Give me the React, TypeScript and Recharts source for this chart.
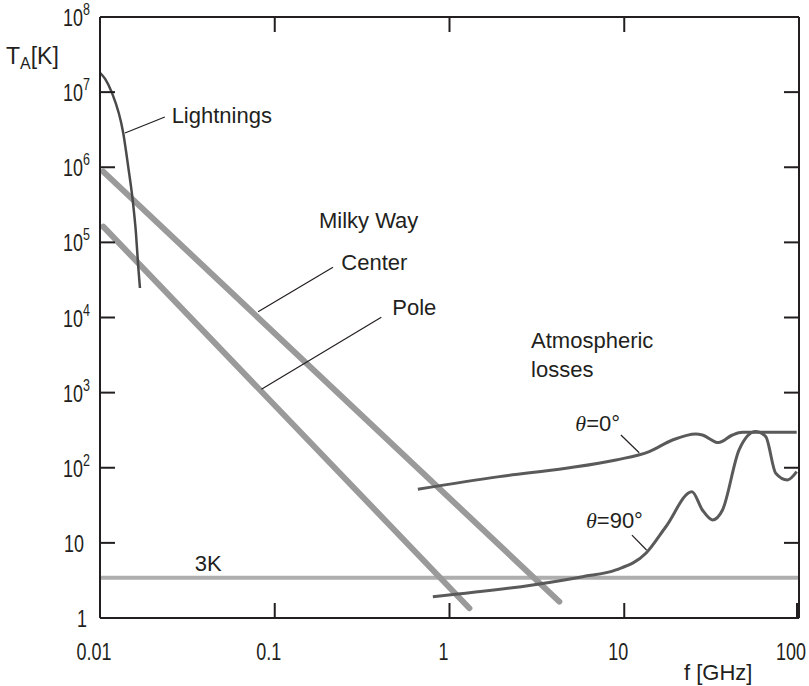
import React from "react";
import {
  ComposedChart,
  Line,
  XAxis,
  YAxis,
  ReferenceLine,
  ReferenceDot,
} from "recharts";

// frequency in GHz, brightness temperature in K
const lightningF = [0.01, 0.0107, 0.01166, 0.01359, 0.0145, 0.01538, 0.01606, 0.01655, 0.01693];
const lightningT = [1.81e7, 1.5e7, 1.0e7, 2.83e6, 1.02e6, 3.67e5, 1.33e5, 4.75e4, 2.47e4];

const centerF = [0.01044, 4.25];
const centerT = [8.73e5, 1.65];

const poleF = [0.01044, 1.3];
const poleT = [1.62e5, 1.35];

const cmbF = [0.01, 100];
const cmbT = [3.44, 3.44];

const zenithF = [0.659, 1.93, 4.64, 8.97, 13.9, 18.9, 25.7, 28.0, 34.6, 41.6, 47.4, 97];
const zenithT = [51.7, 76.2, 98.5, 127, 164, 234, 282, 273, 216, 273, 297, 297];

const horizonF = [0.803, 2.99, 5.78, 8.97, 13.3, 17.3, 24.4, 28.0, 32.0, 36.5, 45.4, 56.5, 64.5, 73.6, 85.8, 97];
const horizonT = [1.92, 2.75, 3.55, 4.36, 7.27, 16.4, 48, 27.4, 20.2, 27.4, 173, 303, 260, 84.5, 68.8, 88.8];

const xTicks = [0.01, 0.1, 1, 10, 100];
const xTickLabels = ["0.01", "0.1", "1", "10", "100"];
const yTicks = [1, 10, 1e2, 1e3, 1e4, 1e5, 1e6, 1e7, 1e8];

const toPoints = (fs: number[], ts: number[]) => fs.map((f, i) => ({ f, T: ts[i] }));

const INK = "#231f20";
const FONT = "'Liberation Sans', Arial, sans-serif";
const SQUEEZE = 0.78;

const BottomTick = (p: any) => {
  const i = xTicks.indexOf(p.payload.value);
  return (
    <g>
      <line x1={p.x} y1={p.y} x2={p.x} y2={p.y - 15} stroke={INK} strokeWidth={2} />
      <text
        transform={`translate(${p.x - 6},${p.y + 42}) scale(${SQUEEZE},1)`}
        textAnchor="middle"
        fontSize={23}
        fontFamily={FONT}
        fill={INK}
      >
        {xTickLabels[i]}
      </text>
    </g>
  );
};

const TopTick = (p: any) => (
  <line x1={p.x} y1={p.y} x2={p.x} y2={p.y + 15} stroke={INK} strokeWidth={2} />
);

const LeftTick = (p: any) => {
  const n = Math.round(Math.log10(p.payload.value));
  const right = n >= 2 ? p.x - 10 : n === 1 ? p.x - 16 : p.x - 13;
  return (
    <g>
      <line x1={p.x} y1={p.y} x2={p.x + 15} y2={p.y} stroke={INK} strokeWidth={2} />
      <text
        transform={`translate(${right},${p.y + 9}) scale(${SQUEEZE},1)`}
        textAnchor="end"
        fontSize={23}
        fontFamily={FONT}
        fill={INK}
      >
        {n === 0 ? "1" : "10"}
        {n >= 2 && (
          <tspan fontSize={16} dy={-11}>
            {n}
          </tspan>
        )}
      </text>
    </g>
  );
};

const RightTick = (p: any) => (
  <line x1={p.x} y1={p.y} x2={p.x - 15} y2={p.y} stroke={INK} strokeWidth={2} />
);

const note = (content: React.ReactNode) => (p: any) => (
  <text x={p.cx} y={p.cy} fontSize={22} fontFamily={FONT} fill={INK}>
    {content}
  </text>
);

const theta = (deg: string) => (
  <>
    <tspan fontFamily="'Liberation Serif', serif" fontStyle="italic">θ</tspan>
    <tspan>{`=${deg}°`}</tspan>
  </>
);

const annotations = [
  { f: 0.0257, T: 3.92e6, text: "Lightnings" as React.ReactNode },
  { f: 0.179, T: 1.54e5, text: "Milky Way" },
  { f: 0.2404, T: 4.29e4, text: "Center" },
  { f: 0.4707, T: 1.08e4, text: "Pole" },
  { f: 2.93, T: 3890, text: "Atmospheric" },
  { f: 2.93, T: 1630, text: "losses" },
  { f: 5.25, T: 311, text: theta("0") },
  { f: 6.04, T: 15.6, text: theta("90") },
  { f: 0.0349, T: 4.26, text: "3K" },
];

const leaders = [
  [{ x: 0.0139, y: 2.86e6 }, { x: 0.0235, y: 4.67e6 }],
  [{ x: 0.0803, y: 1.19e4 }, { x: 0.2154, y: 4.66e4 }],
  [{ x: 0.0839, y: 1107 }, { x: 0.4071, y: 1.007e4 }],
  [{ x: 9.57, y: 273 }, { x: 12.18, y: 158.6 }],
  [{ x: 11.07, y: 12.7 }, { x: 13.41, y: 8.04 }],
];

const App = () => {
  return (
    <div style={{ position: "absolute", left: 0, top: 0, background: "#fff" }}>
      <ComposedChart width={809} height={686} margin={{ top: 16, right: 9, bottom: 0, left: 0 }}>
        <XAxis
          dataKey="f"
          type="number"
          scale="log"
          domain={[0.01, 100]}
          ticks={xTicks}
          allowDataOverflow
          height={68}
          tickSize={0}
          tickMargin={0}
          axisLine={{ stroke: INK, strokeWidth: 2 }}
          tick={(p: any) => <BottomTick {...p} />}
          label={(p: any) => (
            <text
              x={p.viewBox.x + 584}
              y={p.viewBox.y + 62}
              fontSize={22}
              fontFamily={FONT}
              fill={INK}
            >
              f [GHz]
            </text>
          )}
        />
        <XAxis
          xAxisId="top"
          dataKey="f"
          orientation="top"
          type="number"
          scale="log"
          domain={[0.01, 100]}
          ticks={[0.1, 1, 10]}
          allowDataOverflow
          height={1}
          tickSize={0}
          tickMargin={0}
          axisLine={{ stroke: INK, strokeWidth: 2 }}
          tick={(p: any) => <TopTick {...p} />}
        />
        <YAxis
          type="number"
          scale="log"
          domain={[1, 1e8]}
          ticks={yTicks}
          allowDataOverflow
          width={100}
          tickSize={0}
          tickMargin={0}
          axisLine={{ stroke: INK, strokeWidth: 2 }}
          tick={(p: any) => <LeftTick {...p} />}
          label={(p: any) => (
            <text x={p.viewBox.x + 6} y={p.viewBox.y + 47} fontSize={23} fontFamily={FONT} fill={INK}>
              T
              <tspan fontSize={16} dy={5}>
                A
              </tspan>
              <tspan dy={-5}>[K]</tspan>
            </text>
          )}
        />
        <YAxis
          yAxisId="right"
          orientation="right"
          type="number"
          scale="log"
          domain={[1, 1e8]}
          ticks={yTicks}
          allowDataOverflow
          width={1}
          tickSize={0}
          tickMargin={0}
          axisLine={{ stroke: INK, strokeWidth: 2 }}
          tick={(p: any) => <RightTick {...p} />}
        />

        <Line
          data={toPoints(cmbF, cmbT)}
          xAxisId="top"
          yAxisId="right"
          dataKey="T"
          type="linear"
          stroke="#aeaeae"
          strokeWidth={4}
          dot={false}
          activeDot={false}
          isAnimationActive={false}
        />
        <Line
          data={toPoints(centerF, centerT)}
          dataKey="T"
          type="linear"
          stroke="#9a9a9a"
          strokeWidth={6}
          strokeLinecap="round"
          dot={false}
          activeDot={false}
          isAnimationActive={false}
        />
        <Line
          data={toPoints(poleF, poleT)}
          dataKey="T"
          type="linear"
          stroke="#9a9a9a"
          strokeWidth={6}
          strokeLinecap="round"
          dot={false}
          activeDot={false}
          isAnimationActive={false}
        />
        <Line
          data={toPoints(lightningF, lightningT)}
          dataKey="T"
          type="monotone"
          stroke="#4a4a4a"
          strokeWidth={2.5}
          dot={false}
          activeDot={false}
          isAnimationActive={false}
        />
        <Line
          data={toPoints(zenithF, zenithT)}
          dataKey="T"
          type="monotone"
          stroke="#5a5a5a"
          strokeWidth={3}
          dot={false}
          activeDot={false}
          isAnimationActive={false}
        />
        <Line
          data={toPoints(horizonF, horizonT)}
          dataKey="T"
          type="monotone"
          stroke="#5a5a5a"
          strokeWidth={3}
          dot={false}
          activeDot={false}
          isAnimationActive={false}
        />

        {leaders.map((seg, i) => (
          <ReferenceLine key={`lead-${i}`} segment={seg} stroke={INK} strokeWidth={1.2} ifOverflow="visible" />
        ))}
        {annotations.map((a, i) => (
          <ReferenceDot
            key={`note-${i}`}
            x={a.f}
            y={a.T}
            r={0}
            ifOverflow="visible"
            shape={note(a.text)}
          />
        ))}
      </ComposedChart>
    </div>
  );
};

export default App;
